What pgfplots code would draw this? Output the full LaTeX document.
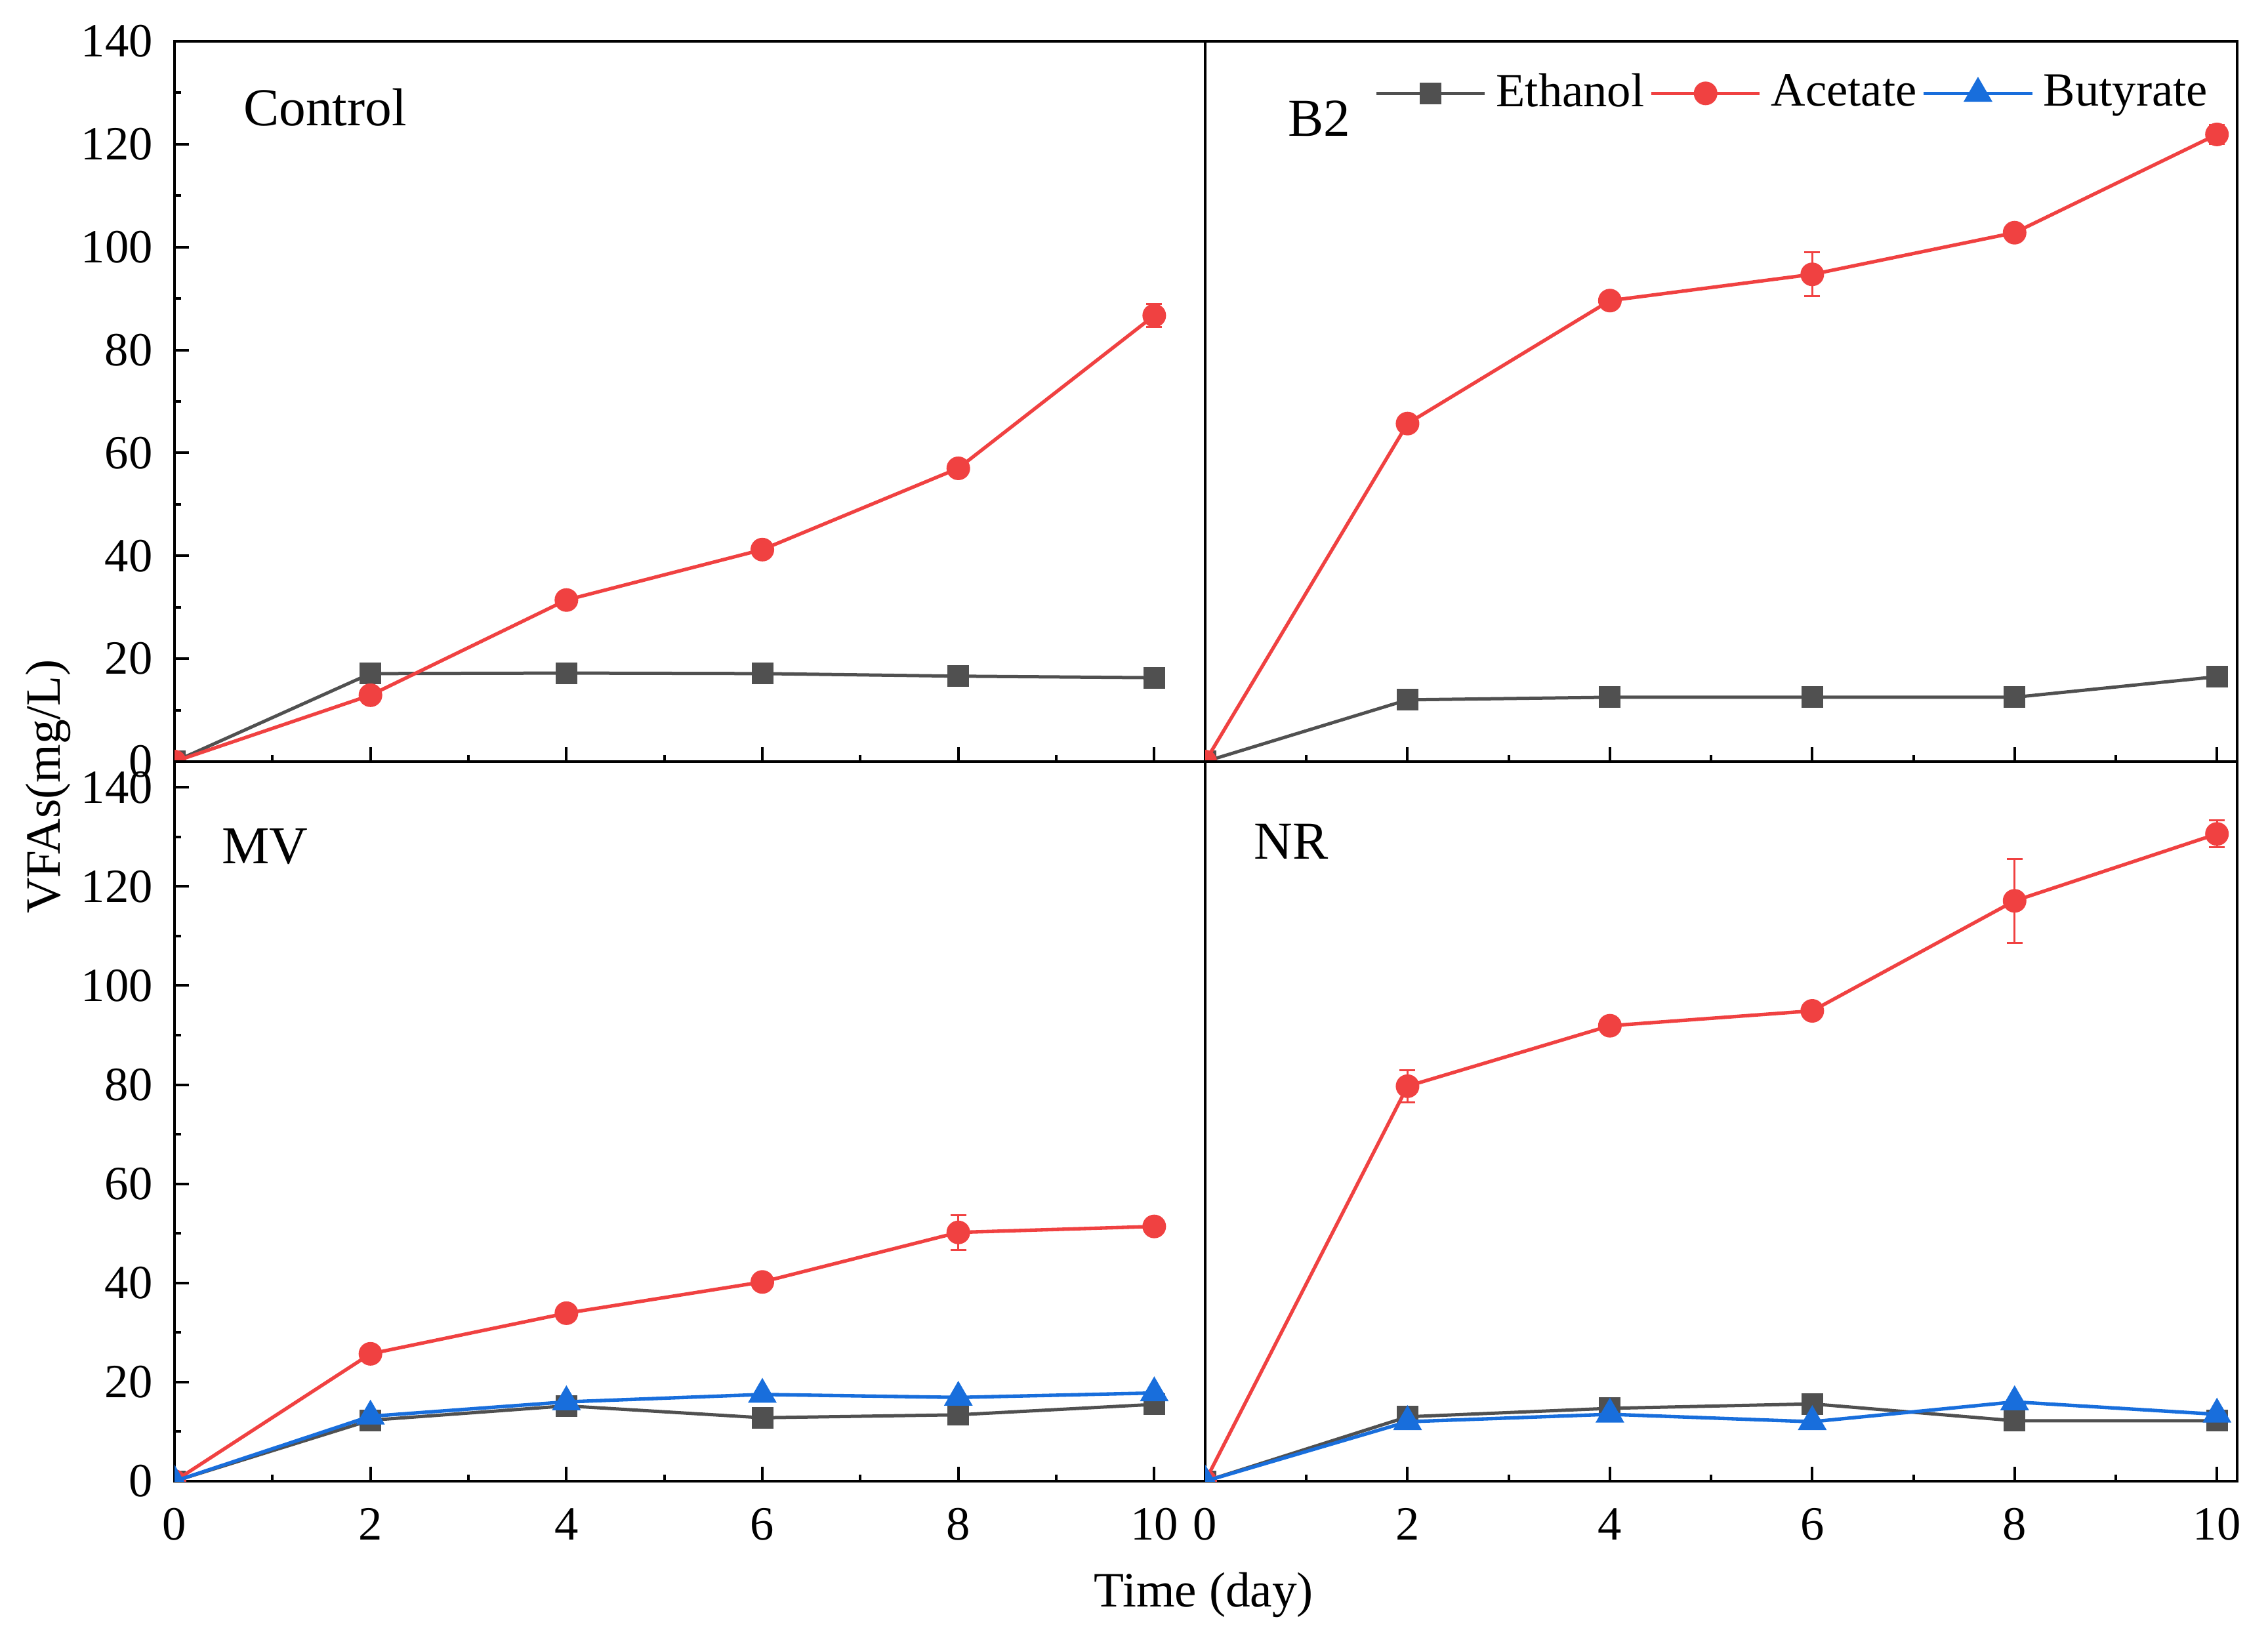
\documentclass[border=0pt]{standalone}
\usepackage{fontspec}
\setmainfont{Liberation Serif}
\usepackage{pgfplots}
\pgfplotsset{compat=1.18}

\definecolor{cEth}{RGB}{80,80,80}
\definecolor{cAce}{RGB}{240,65,65}
\definecolor{cBut}{RGB}{24,110,220}

\pgfplotsset{
  panel/.style={
    scale only axis, xmin=0, ymin=0, clip=true, clip marker paths=true,
    axis line style={line width=0.65pt},
    tick align=inside, xtick pos=left, ytick pos=left,
    major tick length=3.3pt, minor tick length=1.5pt,
    tick style={black, line width=0.6pt},
    xtick={0,2,...,10}, minor x tick num=1,
    ytick={0,20,...,140}, minor y tick num=1,
    tick label style={font=\rmfamily\fontsize{10.9}{12}\selectfont},
    xticklabel style={anchor=north, inner sep=0pt, yshift=-6pt},
    yticklabel style={anchor=east, inner sep=0pt, xshift=-4.8pt},
    /pgf/number format/assume math mode=true,
  },
  lft/.style={width=235.65pt, xmax=10.52},
  rgt/.style={width=235.95pt, xmax=10.2, ytick=\empty},
  top/.style={height=164.7pt, ymax=140, xticklabels={}},
  bot/.style={height=164.55pt, ymax=145.2},
  eth/.style={color=cEth, line width=0.75pt, mark=square*, mark size=2.1pt},
  ace/.style={color=cAce, line width=0.8pt, mark=*, mark size=2.3pt,
    error bars/.cd, y dir=both, y explicit,
    error bar style={line width=0.45pt},
    error mark options={rotate=90, mark size=1.8pt, line width=0.45pt}},
  but/.style={color=cBut, line width=0.8pt, mark=triangle*, mark size=3pt},
}
\newcommand{\plabel}{\fontsize{12.2}{14}\selectfont}

\begin{document}
\begin{tikzpicture}
\path[use as bounding box] (0,0) rectangle (518.55pt,374.1pt);

% Control
\begin{axis}[panel, lft, top, at={(39.9pt,199.95pt)}, anchor=south west]
\addplot[eth] coordinates {(0,0) (2,17.1) (4,17.2) (6,17.1) (8,16.6) (10,16.3)};
\addplot[ace] coordinates {(0,0) +- (0,0) (2,12.9) +- (0,0.5) (4,31.4) +- (0,0.6)
  (6,41.2) +- (0,0.6) (8,57.0) +- (0,0.6) (10,86.7) +- (0,2.2)};
\node[anchor=base west, inner sep=0pt, font=\plabel] at (rel axis cs:0.0662,0.8825) {Control};
\end{axis}

% B2
\begin{axis}[panel, rgt, top, at={(275.55pt,199.95pt)}, anchor=south west,
  legend columns=3,
  legend style={at={(0.1634,0.9277)}, anchor=west, draw=none, fill=none,
    inner sep=0pt, font=\fontsize{10.9}{12}\selectfont,
    nodes={inner sep=0pt},
    /tikz/every odd column/.append style={column sep=2.2pt},
    /tikz/every even column/.append style={column sep=1.2pt}},
  legend image code/.code={\draw[mark repeat=2, mark phase=2, /pgfplots/error bars/draw error bar/.code={}]
    plot coordinates {(0pt,0pt) (12.4pt,0pt) (24.8pt,0pt)};}]
\addplot[eth] coordinates {(0,0) (2,12.0) (4,12.5) (6,12.5) (8,12.5) (10,16.5)};
\addplot[ace] coordinates {(0,0) +- (0,0) (2,65.7) +- (0,0.8) (4,89.6) +- (0,0.8)
  (6,94.7) +- (0,4.3) (8,102.8) +- (0,0.8) (10,121.9) +- (0,1.8)};
\addlegendimage{but}
\legend{Ethanol, Acetate, Butyrate}
\node[anchor=base west, inner sep=0pt, font=\plabel] at (rel axis cs:0.0795,0.868) {B2};
\end{axis}

% MV
\begin{axis}[panel, lft, bot, at={(39.9pt,35.4pt)}, anchor=south west]
\addplot[eth] coordinates {(0,0) (2,12.3) (4,15.2) (6,12.8) (8,13.4) (10,15.5)};
\addplot[ace] coordinates {(0,0) +- (0,0) (2,25.7) +- (0,0.6) (4,33.9) +- (0,0.6)
  (6,40.2) +- (0,0.6) (8,50.2) +- (0,3.5) (10,51.4) +- (0,1.6)};
\addplot[but] coordinates {(0,0) (2,13.1) (4,16.0) (6,17.5) (8,16.9) (10,17.8)};
\node[anchor=base west, inner sep=0pt, font=\plabel] at (rel axis cs:0.0452,0.8578) {MV};
\end{axis}

% NR
\begin{axis}[panel, rgt, bot, at={(275.55pt,35.4pt)}, anchor=south west]
\addplot[eth] coordinates {(0,0) (2,13.0) (4,14.7) (6,15.6) (8,12.2) (10,12.2)};
\addplot[ace] coordinates {(0,0) +- (0,0) (2,79.7) +- (0,3.2) (4,91.9) +- (0,0.7)
  (6,94.9) +- (0,0.7) (8,117.1) +- (0,8.5) (10,130.6) +- (0,2.7)};
\addplot[but] coordinates {(0,0) (2,12.0) (4,13.5) (6,12.0) (8,16.0) (10,13.5)};
\node[anchor=base west, inner sep=0pt, font=\plabel] at (rel axis cs:0.0464,0.8642) {NR};
\end{axis}

\node[rotate=90, anchor=base, inner sep=0pt, font=\fontsize{11.3}{13}\selectfont]
  at (13.8pt,194.25pt) {VFAs(mg/L)};
\node[anchor=base, inner sep=0pt, font=\fontsize{11.3}{13}\selectfont]
  at (275.25pt,6.6pt) {Time (day)};
\end{tikzpicture}
\end{document}
